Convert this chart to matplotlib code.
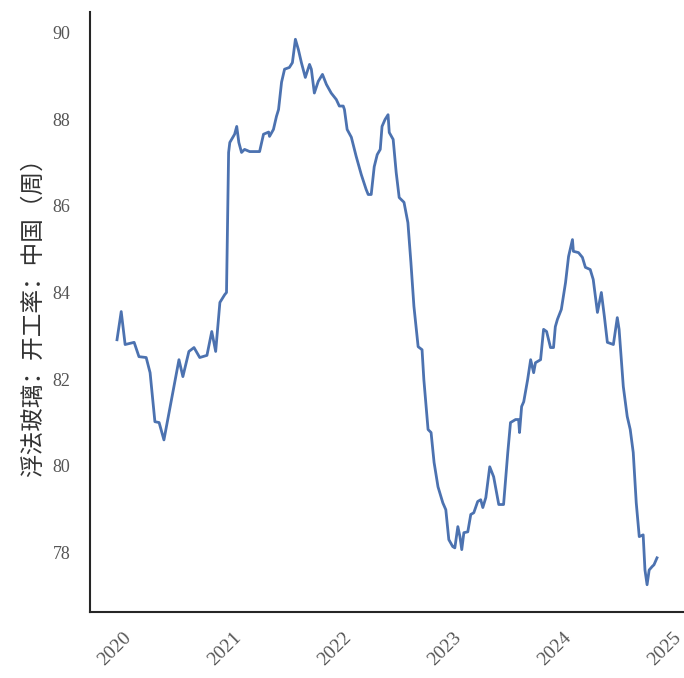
"""
浮法玻璃开工率（周）折线图
"""
import matplotlib
matplotlib.use('Agg')
import matplotlib.pyplot as plt
import matplotlib.dates as mdates
import pandas as pd

# 数据：关键拐点（日期, 开工率 %）
dates = [
    '2020-01-07', '2020-01-21', '2020-02-03', '2020-03-04', '2020-03-20', '2020-04-13',
    '2020-04-26', '2020-05-12', '2020-05-26', '2020-06-11', '2020-06-28', '2020-07-14',
    '2020-07-31', '2020-08-13', '2020-09-02', '2020-09-19', '2020-10-08', '2020-11-01',
    '2020-11-17', '2020-11-30', '2020-12-14', '2020-12-30', '2021-01-05', '2021-01-12',
    '2021-01-16', '2021-02-01', '2021-02-08', '2021-02-15', '2021-02-24', '2021-03-06',
    '2021-03-23', '2021-04-25', '2021-05-08', '2021-05-25', '2021-05-28', '2021-06-10',
    '2021-06-20', '2021-06-27', '2021-07-07', '2021-07-17', '2021-08-02', '2021-08-12',
    '2021-08-22', '2021-09-01', '2021-09-11', '2021-09-24', '2021-10-08', '2021-10-14',
    '2021-10-24', '2021-11-06', '2021-11-20', '2021-12-03', '2021-12-19', '2022-01-05',
    '2022-01-15', '2022-01-28', '2022-02-01', '2022-02-10', '2022-02-24', '2022-03-12',
    '2022-03-29', '2022-04-14', '2022-04-21', '2022-05-01', '2022-05-11', '2022-05-21',
    '2022-05-31', '2022-06-06', '2022-06-16', '2022-06-26', '2022-06-30', '2022-07-13',
    '2022-07-23', '2022-08-02', '2022-08-18', '2022-08-31', '2022-09-10', '2022-09-20',
    '2022-10-04', '2022-10-17', '2022-10-23', '2022-11-06', '2022-11-16', '2022-11-26',
    '2022-12-09', '2022-12-25', '2023-01-04', '2023-01-14', '2023-01-27', '2023-02-03',
    '2023-02-13', '2023-02-20', '2023-02-26', '2023-03-05', '2023-03-18', '2023-03-28',
    '2023-04-07', '2023-04-20', '2023-04-30', '2023-05-07', '2023-05-17', '2023-05-30',
    '2023-06-12', '2023-06-29', '2023-07-15', '2023-07-29', '2023-08-07', '2023-08-24',
    '2023-09-03', '2023-09-06', '2023-09-13', '2023-09-20', '2023-10-03', '2023-10-13',
    '2023-10-23', '2023-10-29', '2023-11-15', '2023-11-25', '2023-12-05', '2023-12-18',
    '2023-12-28', '2024-01-03', '2024-01-10', '2024-01-23', '2024-02-06', '2024-02-16',
    '2024-02-29', '2024-03-03', '2024-03-20', '2024-04-02', '2024-04-12', '2024-04-28',
    '2024-05-08', '2024-05-22', '2024-06-04', '2024-06-14', '2024-06-24', '2024-07-14',
    '2024-07-27', '2024-08-02', '2024-08-16', '2024-08-29', '2024-09-08', '2024-09-18',
    '2024-09-28', '2024-10-08', '2024-10-21', '2024-10-27', '2024-11-03', '2024-11-10',
    '2024-11-20', '2024-11-26', '2024-12-06',
]
values = [
    82.91, 83.56, 82.80, 82.85, 82.52, 82.50,
    82.15, 81.02, 81.00, 80.60, 81.23, 81.83,
    82.45, 82.06, 82.64, 82.73, 82.50, 82.55,
    83.10, 82.64, 83.77, 83.95, 84.00, 87.23,
    87.46, 87.65, 87.83, 87.46, 87.23, 87.30,
    87.25, 87.25, 87.65, 87.70, 87.60, 87.76,
    88.06, 88.22, 88.85, 89.15, 89.19, 89.30,
    89.84, 89.60, 89.30, 88.96, 89.26, 89.15,
    88.60, 88.87, 89.03, 88.80, 88.60, 88.45,
    88.30, 88.30, 88.22, 87.76, 87.58, 87.14,
    86.72, 86.38, 86.26, 86.26, 86.90, 87.18,
    87.30, 87.83, 87.99, 88.10, 87.69, 87.53,
    86.77, 86.19, 86.08, 85.61, 84.69, 83.68,
    82.75, 82.68, 81.99, 80.84, 80.77, 80.08,
    79.52, 79.15, 78.99, 78.30, 78.14, 78.11,
    78.60, 78.37, 78.07, 78.46, 78.48, 78.88,
    78.92, 79.18, 79.22, 79.04, 79.27, 79.98,
    79.75, 79.11, 79.11, 80.31, 81.00, 81.07,
    81.07, 80.77, 81.37, 81.48, 81.99, 82.45,
    82.15, 82.38, 82.45, 83.15, 83.10, 82.73,
    82.73, 83.21, 83.38, 83.61, 84.23, 84.83,
    85.22, 84.95, 84.92, 84.81, 84.58, 84.53,
    84.30, 83.54, 84.00, 83.45, 82.85, 82.80,
    83.42, 83.15, 81.83, 81.14, 80.84, 80.31,
    79.15, 78.37, 78.41, 77.60, 77.26, 77.60,
    77.68, 77.72, 77.88,
]
ylabel = '浮法玻璃：开工率：中国（周）'

x = pd.to_datetime(dates)

fig = plt.figure(figsize=(6.84, 6.78), dpi=100, facecolor='white')
ax = fig.add_axes([90 / 684, 1 - 612 / 678, 594 / 684, 600 / 678])

ax.plot(x, values, color='#4c72b0', linewidth=2.0)

# 坐标轴样式：只保留左侧和底部
for side in ['top', 'right']:
    ax.spines[side].set_visible(False)
for side in ['left', 'bottom']:
    ax.spines[side].set_color('#262626')
    ax.spines[side].set_linewidth(1.5)

ax.set_yticks([78, 80, 82, 84, 86, 88, 90])
ax.xaxis.set_major_locator(mdates.YearLocator())
ax.xaxis.set_major_formatter(mdates.DateFormatter('%Y'))
ax.tick_params(axis='y', length=0, pad=14, labelsize=13, labelcolor='#555555')
ax.tick_params(axis='x', length=0, pad=12, labelsize=14, labelcolor='#555555')
for lbl in ax.get_xticklabels() + ax.get_yticklabels():
    lbl.set_family('Liberation Serif')
plt.setp(ax.get_xticklabels(), rotation=45)

ax.set_ylabel(ylabel, fontsize=17, color='#333333',
              family=['Noto Sans CJK SC', 'DejaVu Sans'], labelpad=6)

fig.savefig('out.png', dpi=100, facecolor='white')
